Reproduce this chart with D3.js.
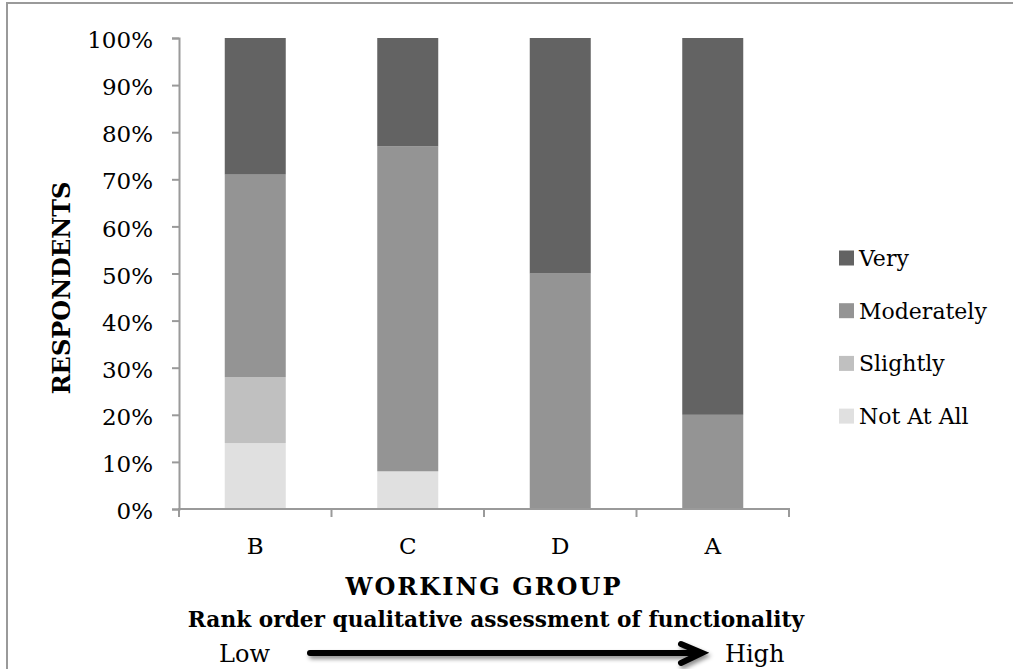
<!DOCTYPE html>
<html>
<head>
<meta charset="utf-8">
<script src="https://cdn.jsdelivr.net/npm/d3@7"></script>
<style>
  html, body { margin: 0; padding: 0; background: #fff; }
  svg { display: block; }
  text { font-family: "DejaVu Serif", "Liberation Serif", serif; fill: #000; }
</style>
</head>
<body>
<svg id="chart" width="1013" height="669"></svg>
<script>
// Working groups, ordered by rank of functionality (low → high)
const groups = ["B", "C", "D", "A"];

// Response levels, bottom of stack first
const levels = ["Not At All", "Slightly", "Moderately", "Very"];

// Share of respondents per level (%) for each group, in the order of `groups`
const notAtAll   = [14, 8, 0, 0];
const slightly   = [14, 0, 0, 0];
const moderately = [43, 69, 50, 20];
const very       = [29, 23, 50, 80];

const yTicks = [0, 10, 20, 30, 40, 50, 60, 70, 80, 90, 100];

const colors = {
  "Very": "#636363",
  "Moderately": "#949494",
  "Slightly": "#c0c0c0",
  "Not At All": "#e0e0e0"
};

const rows = groups.map((g, i) => ({
  group: g,
  "Not At All": notAtAll[i],
  "Slightly": slightly[i],
  "Moderately": moderately[i],
  "Very": very[i]
}));

const svg = d3.select("#chart");

// page frame
svg.append("path")
  .attr("d", "M7,669 V3 H1013")
  .attr("fill", "none")
  .attr("stroke", "#9a9a9a")
  .attr("stroke-width", 2);

const plot = { left: 179, right: 789, top: 38, bottom: 509 };

const x = d3.scaleBand()
  .domain(groups)
  .range([plot.left, plot.right])
  .paddingInner(0.6)
  .paddingOuter(0.3);

const y = d3.scaleLinear()
  .domain([0, 100])
  .range([plot.bottom, plot.top]);

const stack = d3.stack().keys(levels);
const series = stack(rows);

// stacked bars
svg.append("g")
  .selectAll("g")
  .data(series)
  .join("g")
  .attr("fill", d => colors[d.key])
  .selectAll("rect")
  .data(d => d)
  .join("rect")
  .attr("x", d => x(d.data.group))
  .attr("width", x.bandwidth())
  .attr("y", d => y(d[1]))
  .attr("height", d => y(d[0]) - y(d[1]));

// y axis
const yAxis = svg.append("g")
  .attr("transform", `translate(${plot.left},0)`)
  .call(d3.axisLeft(y).tickValues(yTicks).tickFormat(d => d + "%").tickSize(7).tickPadding(19));
yAxis.select(".domain").attr("stroke", "#9a9a9a").attr("stroke-width", 2);
yAxis.selectAll(".tick line").attr("stroke", "#9a9a9a").attr("stroke-width", 2);
yAxis.selectAll(".tick text")
  .attr("font-family", "DejaVu Serif")
  .attr("font-size", 23)
  .attr("dy", "0.42em")
  .attr("fill", "#000");

// x axis: ticks sit on category boundaries
const boundaries = d3.range(groups.length + 1).map(i => plot.left + i * x.step());
const xAxis = svg.append("g");
xAxis.append("line")
  .attr("x1", plot.left - 1).attr("x2", plot.right + 1)
  .attr("y1", plot.bottom).attr("y2", plot.bottom)
  .attr("stroke", "#9a9a9a").attr("stroke-width", 2);
xAxis.selectAll("line.tk")
  .data(boundaries)
  .join("line")
  .attr("class", "tk")
  .attr("x1", d => d).attr("x2", d => d)
  .attr("y1", plot.bottom).attr("y2", plot.bottom + 8)
  .attr("stroke", "#9a9a9a").attr("stroke-width", 2);
xAxis.selectAll("text")
  .data(groups)
  .join("text")
  .attr("x", d => x(d) + x.bandwidth() / 2)
  .attr("y", 554)
  .attr("text-anchor", "middle")
  .attr("font-size", 23)
  .text(d => d);

// axis titles
svg.append("text")
  .attr("transform", "translate(70,288) rotate(-90)")
  .attr("text-anchor", "middle")
  .attr("font-weight", "bold")
  .attr("font-size", 24)
  .text("RESPONDENTS");

svg.append("text")
  .attr("x", (plot.left + plot.right) / 2)
  .attr("y", 595)
  .attr("text-anchor", "middle")
  .attr("font-weight", "bold")
  .attr("font-size", 24)
  .attr("letter-spacing", 2)
  .text("WORKING GROUP");

svg.append("text")
  .attr("x", 496)
  .attr("y", 627)
  .attr("text-anchor", "middle")
  .attr("font-weight", "bold")
  .attr("font-size", 21.7)
  .text("Rank order qualitative assessment of functionality");

svg.append("text")
  .attr("x", 219).attr("y", 662)
  .attr("font-size", 24)
  .text("Low");

svg.append("text")
  .attr("x", 725).attr("y", 662)
  .attr("font-size", 24)
  .text("High");

// low → high arrow with soft shadow
const defs = svg.append("defs");
const f = defs.append("filter").attr("id", "shadow")
  .attr("x", "-10%").attr("y", "-100%").attr("width", "120%").attr("height", "300%");
f.append("feDropShadow")
  .attr("dx", 2).attr("dy", 3).attr("stdDeviation", 2)
  .attr("flood-color", "#000").attr("flood-opacity", 0.45);

const arrow = svg.append("g").attr("filter", "url(#shadow)");
arrow.append("line")
  .attr("x1", 310).attr("x2", 700)
  .attr("y1", 653).attr("y2", 653)
  .attr("stroke", "#000").attr("stroke-width", 6)
  .attr("stroke-linecap", "round");
arrow.append("path")
  .attr("d", "M681,644 L702,653 L681,663")
  .attr("fill", "none")
  .attr("stroke", "#000").attr("stroke-width", 6)
  .attr("stroke-linecap", "round")
  .attr("stroke-linejoin", "miter");

// legend, top entry first
const legendOrder = levels.slice().reverse();
const legend = svg.append("g");
const item = legend.selectAll("g")
  .data(legendOrder)
  .join("g")
  .attr("transform", (d, i) => `translate(839,${258 + i * 52.7})`);
item.append("rect")
  .attr("x", 0).attr("y", -7.5)
  .attr("width", 15).attr("height", 15)
  .attr("fill", d => colors[d]);
item.append("text")
  .attr("x", 20).attr("y", 8)
  .attr("font-size", 22)
  .text(d => d);
</script>
</body>
</html>
